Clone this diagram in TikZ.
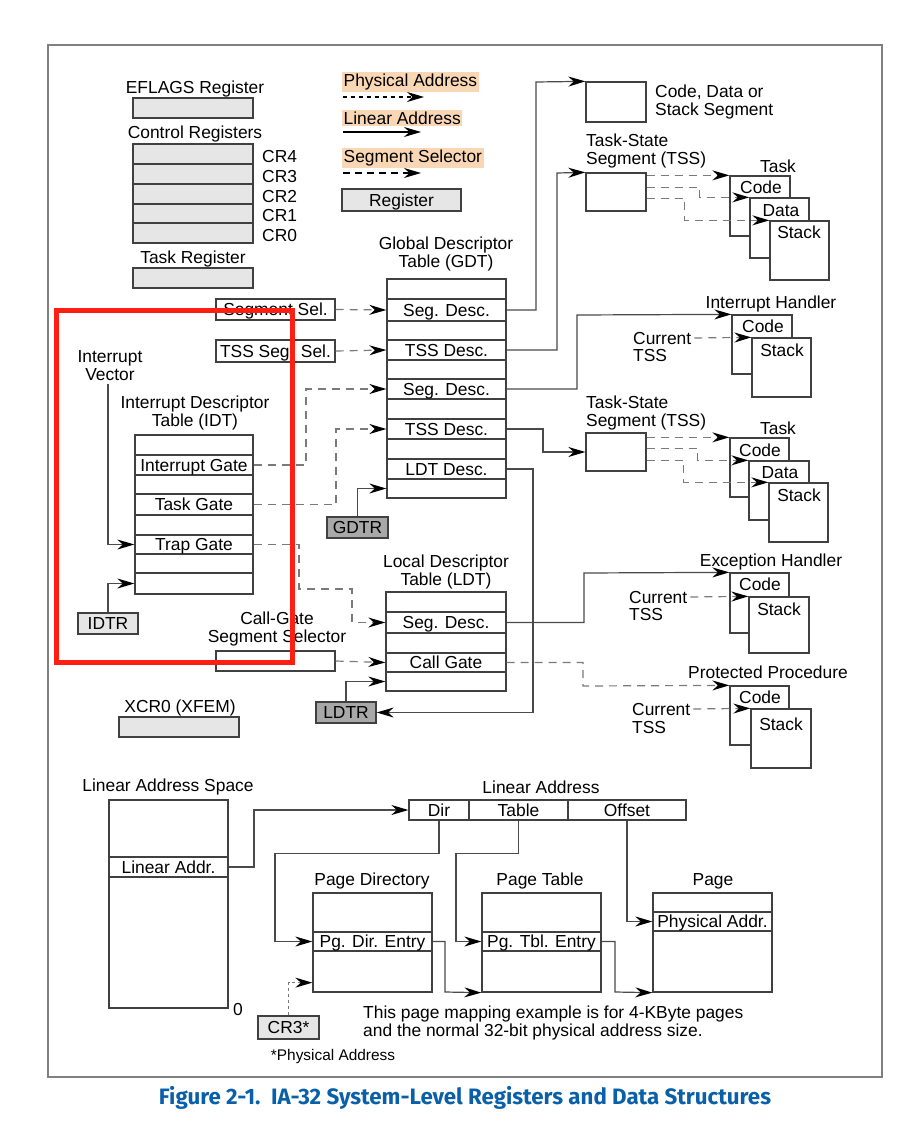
\documentclass[tikz,border=0pt]{standalone}
\usepackage{fontspec}
\setmainfont{Liberation Sans}
\newfontfamily\capfont{Fira Sans}
\usetikzlibrary{arrows.meta,calc}
\definecolor{boxc}{HTML}{404040}
\definecolor{linec}{HTML}{4A4A4A}
\definecolor{dashc}{HTML}{7A7A7A}
\definecolor{regf}{HTML}{E6E6E6}
\definecolor{dregf}{HTML}{A8A8A8}
\definecolor{hil}{HTML}{FAD7B4}
\definecolor{framec}{HTML}{808080}
\definecolor{hired}{HTML}{FF1E12}
\definecolor{capblue}{HTML}{0A60A8}
\newcommand\fs{\fontsize{17.4}{18}\selectfont}
\newcommand\fsm{\fontsize{15.4}{17}\selectfont}
\begin{document}
\begin{tikzpicture}[x=1pt,y=-1pt,
 txt/.style={font=\fs,inner sep=0pt,text height=12.5pt,text depth=0pt},
 mtxt/.style={font=\fs,inner sep=0pt,align=center},
 ltxt/.style={font=\fs,inner sep=0pt,anchor=west,text height=12.5pt,text depth=0pt},
 mltxt/.style={font=\fs,inner sep=0pt,align=left,anchor=west},
 box/.style={draw=boxc,line width=1.3pt,inner sep=0pt,font=\fs,fill=white,text height=12.5pt,text depth=0pt},
 reg/.style={box,fill=regf},
 dreg/.style={box,fill=dregf},
 tip/.style={-{Stealth[length=17pt,width=10pt,inset=5.5pt,color=black]}},
 lnk/.style={draw=linec,line width=1.2pt,tip},
 dlnk/.style={draw=dashc,line width=1.2pt,dash pattern=on 8pt off 6pt,tip},
 hl/.style={font=\fs,inner sep=1.5pt,fill=hil,anchor=west}
]
\useasboundingbox (0,0) rectangle (921,1134);
% frame
\node[draw=framec,line width=2pt,minimum width=834pt,minimum height=1032pt,inner sep=0pt] (frame) at (465,561) {};
% registers
\node[txt] (eflt) at (195,87) {EFLAGS Register};
\node[reg,minimum width=120pt,minimum height=20pt] (eflags) at (193,108) {};
\node[txt] (crt) at (195,132) {Control Registers};
\node[reg,minimum width=120pt,minimum height=20pt] (cr4) at (193,154) {};
\node[reg,minimum width=120pt,minimum height=20pt] (cr3r) at (193,174) {};
\node[reg,minimum width=120pt,minimum height=20pt] (cr2) at (193,194) {};
\node[reg,minimum width=120pt,minimum height=19pt] (cr1) at (193,213.5) {};
\node[reg,minimum width=120pt,minimum height=20pt] (cr0) at (193,233) {};
\node[ltxt] (cr4t) at (262,156) {CR4};
\node[ltxt] (cr3t) at (262,176) {CR3};
\node[ltxt] (cr2t) at (262,196) {CR2};
\node[ltxt] (cr1t) at (262,215) {CR1};
\node[ltxt] (cr0t) at (262,235) {CR0};
\node[txt] (trt) at (193,257) {Task Register};
\node[reg,minimum width=120pt,minimum height=20pt] (tr) at (193,278) {};
% legend
\node[hl] (lpa) at (342,82) {Physical Address};
\coordinate (lpa1) at (343,97); \coordinate (lpa2) at (424,97);
\draw[black,line width=1.2pt,dash pattern=on 4pt off 4pt,tip] (lpa1) -- (lpa2);
\node[hl] (lla) at (342,118) {Linear Address};
\coordinate (lla1) at (343,132); \coordinate (lla2) at (421,132);
\draw[black,line width=1.2pt,tip] (lla1) -- (lla2);
\node[hl] (lss) at (342,158) {Segment Selector};
\coordinate (lss1) at (343,173); \coordinate (lss2) at (421,173);
\draw[black,line width=1.2pt,dash pattern=on 7pt off 5pt,tip] (lss1) -- (lss2);
\node[reg,minimum width=119pt,minimum height=22pt] (lreg) at (401.5,200) {Register};
% GDT
\node[mtxt] (gdtt) at (446,254) {Global Descriptor\\Table (GDT)};
\node[box,minimum width=119pt,minimum height=219pt] (gdt) at (446.5,388.5) {};
\node[box,minimum width=119pt,minimum height=22pt] (gdt1) at (446.5,310) {Seg. Desc.};
\node[box,minimum width=119pt,minimum height=20pt] (gdt2) at (446.5,350) {TSS Desc.};
\node[box,minimum width=119pt,minimum height=20pt] (gdt3) at (446.5,389) {Seg. Desc.};
\node[box,minimum width=119pt,minimum height=20pt] (gdt4) at (446.5,429) {TSS Desc.};
\node[box,minimum width=119pt,minimum height=20pt] (gdt5) at (446.5,469) {LDT Desc.};
\node[box,minimum width=119pt,minimum height=19pt] (gdt6) at (446.5,488.5) {};
% selectors
\node[box,minimum width=119pt,minimum height=21pt] (ssel) at (275.5,309.5) {Segment Sel.};
\node[box,minimum width=119pt,minimum height=22pt] (tsel) at (275.5,351) {TSS Seg. Sel.};
\draw[dlnk] (ssel.east) -- (gdt1.west);
\draw[dlnk] (tsel.east) -- (gdt2.west);
% IDT
\node[mtxt] (ivt) at (110,365.5) {Interrupt\\Vector};
\node[mtxt] (idtt) at (195,413) {Interrupt Descriptor\\Table (IDT)};
\node[box,minimum width=118pt,minimum height=159pt] (idt) at (194,514.5) {};
\node[box,minimum width=118pt,minimum height=20pt] (idt1) at (194,465) {Interrupt Gate};
\node[box,minimum width=118pt,minimum height=21pt] (idt2) at (194,504.5) {Task Gate};
\node[box,minimum width=118pt,minimum height=19pt] (idt3) at (194,544.5) {Trap Gate};
\node[box,minimum width=118pt,minimum height=21pt] (idt4) at (194,583.5) {};
\node[reg,minimum width=60pt,minimum height=21pt] (idtr) at (108,623.5) {IDTR};
\coordinate (ivs) at (108,384);
\draw[lnk] (ivs) |- (idt3.west);
\draw[lnk] (idtr.north) |- (idt4.west);
\draw[dlnk] (idt1.east) -| (306,389) -- (gdt3.west);
\draw[dlnk] (idt2.east) -| (336,429) -- (gdt4.west);
% GDTR
\node[dreg,minimum width=61pt,minimum height=21pt] (gdtr) at (357.5,527.5) {GDTR};
\draw[lnk] (gdtr.north) |- (gdt6.west);
% LDT
\node[mtxt] (ldtt) at (446,572) {Local Descriptor\\Table (LDT)};
\node[box,minimum width=120pt,minimum height=99pt] (ldt) at (446,641.5) {};
\node[box,minimum width=120pt,minimum height=21pt] (ldt1) at (446,622.5) {Seg. Desc.};
\node[box,minimum width=120pt,minimum height=19pt] (ldt2) at (446,662.5) {Call Gate};
\node[box,minimum width=120pt,minimum height=19pt] (ldt3) at (446,681.5) {};
\draw[dlnk] (idt3.east) -| (299,589) -| (352,622.5) -- (ldt1.west);
\node[mtxt] (cgt) at (277,629) {Call-Gate\\Segment Selector};
\node[box,minimum width=119pt,minimum height=20pt] (cgsel) at (275.5,661) {};
\draw[dlnk] (cgsel.east) -- (ldt2.west);
\node[dreg,minimum width=60pt,minimum height=21pt] (ldtr) at (346,712.5) {LDTR};
\draw[lnk] (ldtr.north) |- (ldt3.west);
\draw[lnk] (gdt5.east) -| (533,712.5) -- (ldtr.east);
% XCR0
\node[txt] (xcrt) at (180,706) {XCR0 (XFEM)};
\node[reg,minimum width=120pt,minimum height=20pt] (xcr) at (179,727) {};
% code/data/stack segment
\node[box,minimum width=60pt,minimum height=40pt] (cds) at (616,102) {};
\node[mltxt] (cdst) at (655,102) {Code, Data or\\Stack Segment};
\draw[lnk] (gdt1.east) -| (536,82) -- (cds.north west);
% TSS 1 and task 1
\node[mltxt] (tss1t) at (586,151.5) {Task-State\\Segment (TSS)};
\node[box,minimum width=60pt,minimum height=38pt] (tss1) at (616,192) {};
\draw[lnk] (gdt2.east) -| (557,173) -- (tss1.north west);
\node[txt] (task1t) at (778,166) {Task};
\node[box,minimum width=60pt,minimum height=60pt] (tc1) at (760,206) {};
\node[txt] (tc1t) at (761,187) {Code};
\node[box,minimum width=59pt,minimum height=60pt] (td1) at (779.5,228) {};
\node[txt] (td1t) at (781,210) {Data};
\node[box,minimum width=59pt,minimum height=59pt] (ts1) at (799.5,250.5) {};
\node[txt] (ts1t) at (799,232) {Stack};
\draw[dlnk] (tss1.east |- tc1.north west) -- (tc1.north west);
\draw[dlnk] ($(tss1.north east)+(0,15)$) -- ++(53,0) |- (td1.north west);
\draw[dlnk] ($(tss1.north east)+(0,26)$) -- ++(38,0) |- (ts1.north west);
% interrupt handler
\node[txt] (iht) at (771,302) {Interrupt Handler};
\node[box,minimum width=60pt,minimum height=59pt] (ihc) at (762,344.5) {};
\node[txt] (ihct) at (763,326) {Code};
\node[box,minimum width=59pt,minimum height=59pt] (ihs) at (781.5,367.5) {};
\node[txt] (ihst) at (782,350) {Stack};
\draw[lnk] (gdt3.east) -| (577,315) -- (ihc.north west);
\node[ltxt] (ihcur) at (633,338) {Current};
\node[ltxt] (ihtss) at (633,355) {TSS};
\draw[dlnk,shorten <=3pt] (ihcur.east) -- (ihs.north west);
% TSS 2 and task 2
\node[mltxt] (tss2t) at (586,412.5) {Task-State\\Segment (TSS)};
\node[box,minimum width=60pt,minimum height=38pt] (tss2) at (616,452) {};
\draw[lnk] (gdt4.east) -| (543,452) -- (tss2.west);
\node[txt] (task2t) at (778,428) {Task};
\node[box,minimum width=59pt,minimum height=59pt] (tc2) at (759.5,467.5) {};
\node[txt] (tc2t) at (760,450) {Code};
\node[box,minimum width=60pt,minimum height=59pt] (td2) at (779,490.5) {};
\node[txt] (td2t) at (780,472) {Data};
\node[box,minimum width=59pt,minimum height=59pt] (ts2) at (798.5,512.5) {};
\node[txt] (ts2t) at (799,495) {Stack};
\draw[dlnk] (tss2.east |- tc2.north west) -- (tc2.north west);
\draw[dlnk] ($(tss2.north east)+(0,16)$) -- ++(51,0) |- (td2.north west);
\draw[dlnk] ($(tss2.north east)+(0,28)$) -- ++(37,0) |- (ts2.north west);
% exception handler
\node[txt] (eht) at (771,560) {Exception Handler};
\node[box,minimum width=59pt,minimum height=60pt] (ehc) at (759.5,603) {};
\node[txt] (ehct) at (760,584) {Code};
\node[box,minimum width=60pt,minimum height=56pt] (ehs) at (779,625) {};
\node[txt] (ehst) at (779,609) {Stack};
\draw[lnk] (ldt1.east) -| (584,573) -- (ehc.north west);
\node[ltxt] (ehcur) at (629,597) {Current};
\node[ltxt] (ehtss) at (629,614) {TSS};
\draw[dlnk,shorten <=3pt] (ehcur.east) -- (ehs.north west);
% protected procedure
\node[txt] (ppt) at (768,672) {Protected Procedure};
\node[box,minimum width=59pt,minimum height=59pt] (ppc) at (759.5,715.5) {};
\node[txt] (ppct) at (760,697) {Code};
\node[box,minimum width=60pt,minimum height=59pt] (pps) at (781,738.5) {};
\node[txt] (ppst) at (781,724) {Stack};
\draw[dlnk] (ldt2.east) -| (583,686) -- (ppc.north west);
\node[ltxt] (ppcur) at (632,709) {Current};
\node[ltxt] (pptss) at (632,727) {TSS};
\draw[dlnk,shorten <=3pt] (ppcur.east) -- (pps.north west);
% paging
\node[txt] (last) at (168,785) {Linear Address Space};
\node[box,minimum width=119pt,minimum height=208pt] (las) at (168.5,904) {};
\node[box,minimum width=119pt,minimum height=20pt] (lasr) at (168.5,867) {Linear Addr.};
\node[txt] (zero) at (238,1009) {0};
\node[txt] (lat) at (541,787) {Linear Address};
\node[box,minimum width=60pt,minimum height=20pt] (ldir) at (439,810) {Dir};
\node[box,minimum width=99pt,minimum height=20pt] (ltab) at (518.5,810) {Table};
\node[box,minimum width=118pt,minimum height=20pt] (loff) at (627,810) {Offset};
\draw[lnk] (lasr.east) -| (254,810) -- (ldir.west);
\node[txt] (pdt) at (372,879) {Page Directory};
\node[box,minimum width=119pt,minimum height=99pt] (pd) at (372.5,942.5) {};
\node[box,minimum width=119pt,minimum height=19pt] (pde) at (372.5,941.5) {Pg. Dir. Entry};
\node[txt] (ptt) at (540,879) {Page Table};
\node[box,minimum width=119pt,minimum height=99pt] (pt) at (541.5,942.5) {};
\node[box,minimum width=119pt,minimum height=19pt] (pte) at (541.5,941.5) {Pg. Tbl. Entry};
\node[txt] (pgt) at (713,879) {Page};
\node[box,minimum width=119pt,minimum height=99pt] (pg) at (712.5,942.5) {};
\node[box,minimum width=119pt,minimum height=19pt] (pa) at (712.5,921.5) {Physical Addr.};
\draw[lnk] (ldir.south) -- ++(0,33) -| (275,941.5) -- (pde.west);
\draw[lnk] (ltab.south) -- ++(0,33) -| (456,941.5) -- (pte.west);
\draw[lnk] (loff.south) |- (pa.west);
\draw[lnk] (pde.east) -| (445,992) -- (pt.south west);
\draw[lnk] (pte.east) -| (615,992) -- (pg.south west);
\node[reg,minimum width=61pt,minimum height=23pt] (cr3) at (288.5,1027.5) {CR3*};
\draw[draw=dashc,line width=1.2pt,dash pattern=on 3pt off 3pt,tip] (cr3.north) |- ([yshift=10pt]pd.south west);
\node[mltxt] (note) at (363,1023) {This page mapping example is for 4-KByte pages\\and the normal 32-bit physical address size.};
\node[font=\fsm,inner sep=0pt,text height=11pt,text depth=0pt] (physt) at (333,1055) {*Physical Address};
% caption
\node[font=\capfont\bfseries\fontsize{22.3}{24}\selectfont,text=capblue,inner sep=0pt,text height=15pt,text depth=0pt] (cap) at (465,1097) {Figure 2-1.\ \ IA-32 System-Level Registers and Data Structures};
% highlight
\node[draw=hired,line width=5pt,minimum width=236pt,minimum height=352pt,inner sep=0pt] (redbox) at (174,486) {};
\end{tikzpicture}
\end{document}
